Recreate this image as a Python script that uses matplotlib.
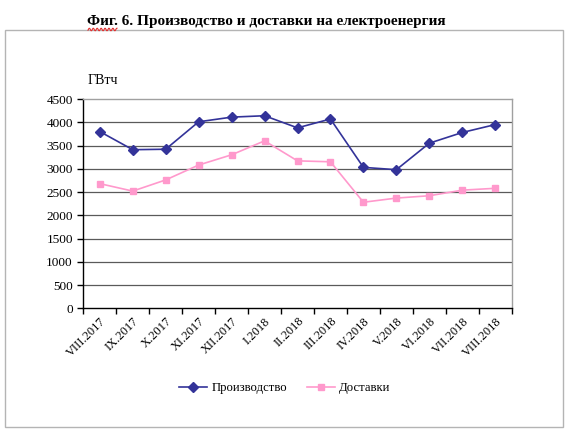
import numpy as np
import matplotlib
matplotlib.use('Agg')
import matplotlib.pyplot as plt
from matplotlib.patches import Rectangle
from matplotlib.lines import Line2D

plt.rcParams['font.family'] = ['Liberation Serif', 'DejaVu Serif']

# данни
meseci = ['VIII.2017', 'IX.2017', 'X.2017', 'XI.2017', 'XII.2017', 'I.2018', 'II.2018',
          'III.2018', 'IV.2018', 'V.2018', 'VI.2018', 'VII.2018', 'VIII.2018']
proizvodstvo = [3800, 3410, 3420, 4010, 4110, 4140, 3880, 4070, 3030, 2980, 3550, 3780, 3950]
dostavki = [2680, 2520, 2760, 3080, 3300, 3600, 3170, 3150, 2280, 2370, 2420, 2540, 2580]

W, H = 568, 432
fig = plt.figure(figsize=(W / 100, H / 100), dpi=100)

# рамка на диаграмата
fig.patches.append(Rectangle((5 / W, 5 / H), 558 / W, 397 / H, transform=fig.transFigure,
                             fill=False, edgecolor='#b4b4b4', linewidth=1))

fig.text(266 / W, 1 - 21 / H, 'Фиг. 6. Производство и доставки на електроенергия',
         ha='center', va='center', fontsize=11, fontweight='bold')
# червена вълничка (проверка на правописа)
xs = np.linspace(88, 117, 60)
ys = 29.5 + 1.3 * np.sin(xs * 1.6)
fig.lines.append(Line2D(xs / W, 1 - ys / H, transform=fig.transFigure, color='#e03030', linewidth=0.8))

ax = fig.add_axes([83.3 / W, 1 - 308.3 / H, 428.4 / W, 209.3 / H])
x = np.arange(len(meseci))
ax.plot(x, proizvodstvo, color='#333399', marker='D', markersize=4.8, linewidth=1.2,
        label='Производство')
ax.plot(x, dostavki, color='#ff99cc', marker='s', markersize=4.2, linewidth=1.2,
        label='Доставки')

ax.set_xlim(-0.5, len(meseci) - 0.5)
ax.set_ylim(0, 4500)
ax.set_yticks(range(0, 4501, 500))
for v in range(500, 4500, 500):
    ax.axhline(v, color='#5a5a5a', linewidth=0.9, zorder=0)

ax.set_xticks(x)
ax.set_xticklabels(meseci, rotation=45, ha='right', va='top', rotation_mode='anchor', fontsize=9)
ax.set_xticks(np.arange(-0.5, len(meseci)), minor=True)
ax.tick_params(axis='x', which='major', length=0, pad=5)
ax.tick_params(axis='x', which='minor', length=4, width=1, direction='out', color='black')
ax.tick_params(axis='y', length=4, width=1, direction='out', labelsize=9.5, pad=3.5)

ax.spines['left'].set_color('black')
ax.spines['bottom'].set_color('black')
ax.spines['top'].set_color('#a0a0a0')
ax.spines['right'].set_color('#a0a0a0')
for s in ax.spines.values():
    s.set_linewidth(1)

fig.text(88 / W, 1 - 80 / H, 'ГВтч', ha='left', va='center', fontsize=10)

fig.legend(loc='center', bbox_to_anchor=(285 / W, 1 - 388 / H), ncol=2, frameon=False,
           fontsize=9.2, handlelength=2.2, columnspacing=1.6, handletextpad=0.3)

fig.savefig('out.png', dpi=100)
